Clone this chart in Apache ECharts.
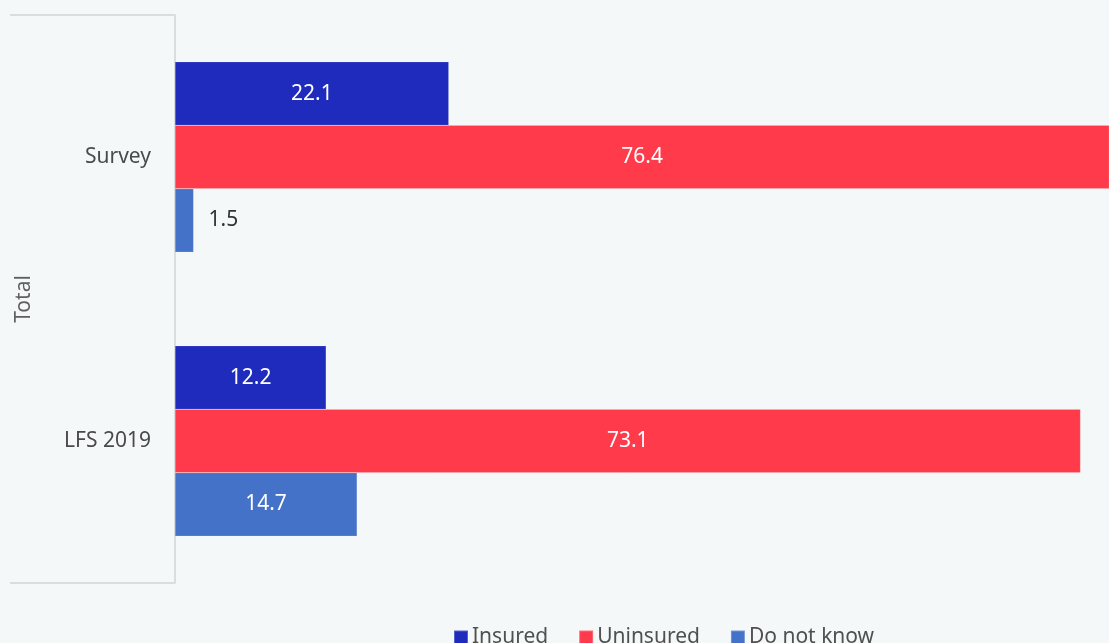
<!DOCTYPE html>
<html>
<head>
<meta charset="utf-8">
<script src="https://cdn.jsdelivr.net/npm/echarts@6/dist/echarts.min.js"></script>
<style>
  html, body { margin: 0; padding: 0; background: #f5f8f9; }
  #chart { width: 1109px; height: 643px; }
</style>
</head>
<body>
<div id="chart"></div>
<script>
// Health insurance status, share of respondents (%)
const categories = ['Survey', 'LFS 2019'];
const groupName = 'Total';
const insured = [22.1, 12.2];
const uninsured = [76.4, 73.1];
const doNotKnow = [1.5, 14.7];

const FONT = '"Noto Sans", "Open Sans", sans-serif';

// Values that are too small to hold their label get it beside the bar
function seriesData(values) {
  return values.map(v => v < 5
    ? { value: v, label: { position: 'right', color: '#333333', distance: 15 } }
    : v);
}

function barSeries(name, values, color) {
  return {
    name: name,
    type: 'bar',
    data: seriesData(values),
    barGap: '0%',
    barCategoryGap: '33%',
    itemStyle: { color: color, borderColor: 'rgba(255,255,255,0.25)', borderWidth: 0.5 },
    label: {
      show: true,
      position: 'inside',
      color: '#ffffff',
      fontFamily: FONT,
      fontSize: 21,
      formatter: p => p.value.toFixed(1)
    },
    emphasis: { disabled: true }
  };
}

const chart = echarts.init(document.getElementById('chart'));
chart.setOption({
  backgroundColor: '#f5f8f9',
  animation: false,
  grid: { left: 175, right: 0, top: 15, bottom: 60 },
  // The value axis ends a little short of the largest bar, which runs off the edge
  xAxis: {
    type: 'value',
    min: 0,
    max: 75.4,
    show: false
  },
  yAxis: {
    type: 'category',
    data: categories,
    inverse: true,
    name: groupName,
    nameLocation: 'middle',
    nameRotate: 90,
    nameGap: 140,
    nameTextStyle: { color: '#606060', fontFamily: FONT, fontSize: 21 },
    axisLine: { show: true, lineStyle: { color: '#dcdcdc', width: 2 } },
    axisTick: { show: false },
    axisLabel: { color: '#4a4a4a', fontFamily: FONT, fontSize: 21, margin: 24 }
  },
  legend: {
    left: 453,
    top: 627,
    padding: 0,
    itemWidth: 14,
    itemHeight: 14,
    itemGap: 30,
    icon: 'rect',
    textStyle: { color: '#505050', fontFamily: FONT, fontSize: 21, padding: [0, 0, 0, -1] },
    data: ['Insured', 'Uninsured', 'Do not know']
  },
  graphic: [
    { type: 'line', shape: { x1: 10, y1: 15, x2: 174, y2: 15 }, style: { stroke: '#dcdcdc', lineWidth: 2 } },
    { type: 'line', shape: { x1: 10, y1: 583, x2: 174, y2: 583 }, style: { stroke: '#dcdcdc', lineWidth: 2 } }
  ],
  series: [
    barSeries('Insured', insured, '#1f2bbd'),
    barSeries('Uninsured', uninsured, '#ff3b4b'),
    barSeries('Do not know', doNotKnow, '#4472c8')
  ]
});
</script>
</body>
</html>
